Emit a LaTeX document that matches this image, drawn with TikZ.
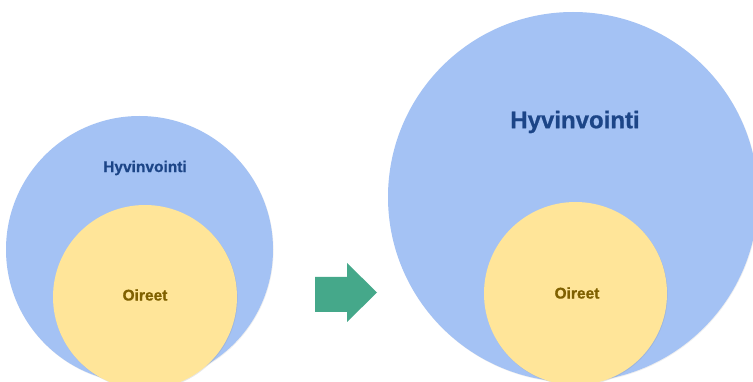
\documentclass[tikz,border=0pt]{standalone}
\usepackage{fontspec}
\setmainfont[BoldFeatures={FakeBold=0.8}]{Liberation Sans}
\usetikzlibrary{shadows}
\definecolor{bluefill}{HTML}{A4C2F4}
\definecolor{yellowfill}{HTML}{FFE599}
\definecolor{bluetext}{HTML}{1C4587}
\definecolor{yellowtext}{HTML}{7F6000}
\definecolor{arrowgreen}{HTML}{45A88A}
\tikzset{
  bigcircle/.style={circle, fill=bluefill, inner sep=0pt, draw=none,
    drop shadow={opacity=0.12, shadow xshift=0.6pt, shadow yshift=-0.8pt}},
  smallcircle/.style={circle, fill=yellowfill, inner sep=0pt, draw=none,
    drop shadow={opacity=0.18, shadow xshift=0.6pt, shadow yshift=-0.8pt}},
  bluelabel/.style={text=bluetext, font=\bfseries, inner sep=0pt},
  yellowlabel/.style={text=yellowtext, font=\bfseries\fontsize{15.5}{18}\selectfont, inner sep=0pt},
}
\begin{document}
\begin{tikzpicture}[x=1pt,y=-1pt]
\useasboundingbox[fill=white] (0,0) rectangle (753,382);
\begin{scope}
\clip (0,0) rectangle (753,382);
% left
\node[bigcircle, minimum size=267pt] (lb) at (139.5,249.5) {};
\node[smallcircle, minimum size=184pt] (ly) at (145,297) {};
\node[bluelabel, font=\bfseries\fontsize{15.5}{18}\selectfont] (lh) at (145,168) {Hyvinvointi};
\node[yellowlabel] (lo) at (145,295) {Oireet};
% right
\node[bigcircle, minimum size=370pt] (rb) at (573,197) {};
\node[smallcircle, minimum size=183pt] (ry) at (575.5,293.5) {};
\node[bluelabel, font=\bfseries\fontsize{24}{28}\selectfont] (rh) at (575,122) {Hyvinvointi};
\node[yellowlabel] (ro) at (577,293) {Oireet};
\end{scope}
% arrow
\fill[arrowgreen] (315,277) -- (347,277) -- (347,263) -- (377,292.5) -- (347,322) -- (347,312) -- (315,312) -- cycle;
\end{tikzpicture}
\end{document}
